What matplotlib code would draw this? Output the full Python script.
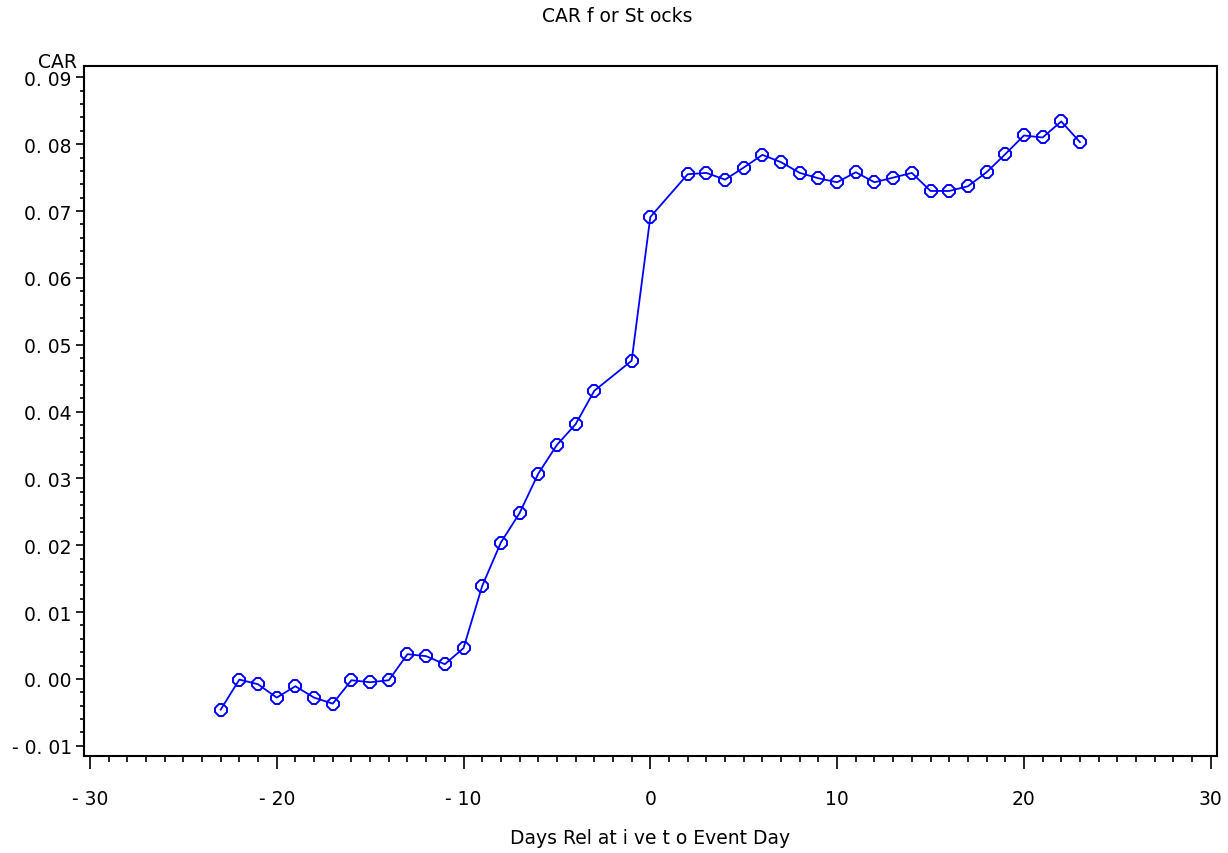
import numpy as np
import matplotlib
matplotlib.use("Agg")
import matplotlib.pyplot as plt
from matplotlib.ticker import MultipleLocator

# days relative to event (days -2 and 1 are not in the data)
days = [-23, -22, -21, -20, -19, -18, -17, -16, -15, -14, -13, -12, -11, -10,
        -9, -8, -7, -6, -5, -4, -3, -1, 0, 2, 3, 4, 5, 6, 7, 8, 9, 10, 11, 12,
        13, 14, 15, 16, 17, 18, 19, 20, 21, 22, 23]
car = [-0.0046, -0.0001, -0.0008, -0.0028, -0.0011, -0.0028, -0.0037, -0.0002,
       -0.0005, -0.0002, 0.0037, 0.0034, 0.0022, 0.0046,
       0.0139, 0.0204, 0.0248, 0.0307, 0.0350, 0.0381, 0.0431, 0.0476,
       0.0691, 0.0755, 0.0757, 0.0747, 0.0765, 0.0784, 0.0773, 0.0757, 0.0749,
       0.0743, 0.0758, 0.0743, 0.0750, 0.0757, 0.0730, 0.0730, 0.0737, 0.0758,
       0.0785, 0.0813, 0.0810, 0.0834, 0.0803]

yticks = [-0.01, 0.00, 0.01, 0.02, 0.03, 0.04, 0.05, 0.06, 0.07, 0.08, 0.09]
ylabels = ["- 0. 01", "0. 00", "0. 01", "0. 02", "0. 03", "0. 04", "0. 05",
           "0. 06", "0. 07", "0. 08", "0. 09"]
xticks = [-30, -20, -10, 0, 10, 20, 30]
xlabels = ["- 30", "- 20", "- 10", "0", "10", "20", "30"]

plt.rcParams['font.family'] = 'DejaVu Sans'
fs = 13.5

fig = plt.figure(figsize=(12.28, 8.54), dpi=100)
ax = fig.add_axes([84.3/1228, 1-756.7/854, (1216.7-84.3)/1228, (756.7-67.3)/854])

ax.plot(days, car, color='#0000ff', lw=1.3, marker='8', ms=9,
        mfc='none', mec='#0000ff', mew=1.4)

ax.set_xlim(-30.3, 30.32)
ax.set_ylim(-0.01149, 0.09165)

ax.set_xticks(xticks)
ax.set_xticklabels(xlabels, fontsize=fs)
ax.xaxis.set_minor_locator(MultipleLocator(1))
ax.set_yticks(yticks)
ax.set_yticklabels(ylabels, fontsize=fs)
ax.yaxis.set_minor_locator(MultipleLocator(0.002))

ax.tick_params(axis='x', which='major', direction='out', length=9, width=1.2, pad=15)
ax.tick_params(axis='x', which='minor', direction='out', length=4.5, width=1.2)
ax.tick_params(axis='y', which='major', direction='out', length=6, width=1.2, pad=3)
ax.tick_params(axis='y', which='minor', direction='out', length=3, width=1.2)

for s in ax.spines.values():
    s.set_linewidth(1.5)

fig.text(650/1228, 1-839/854, "Days Rel at i ve t o Event Day", ha='center', va='center', fontsize=fs)
fig.text(617/1228, 1-16/854, "CAR f or St ocks", ha='center', va='center', fontsize=fs)
fig.text(77/1228, 1-63/854, "CAR", ha='right', va='center', fontsize=fs)

fig.savefig("out.png", dpi=100)
